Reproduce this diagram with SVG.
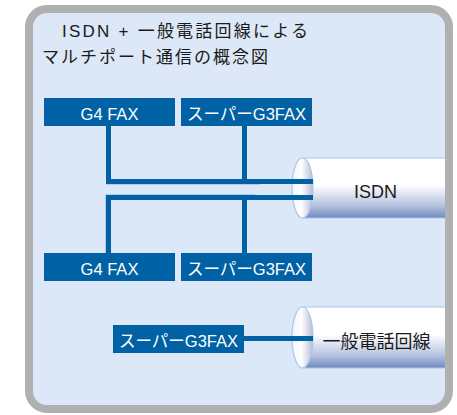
<svg xmlns="http://www.w3.org/2000/svg" width="457" height="415" viewBox="0 0 457 415">
  <defs>
    <linearGradient id="bodyGrad" x1="0" y1="0" x2="0" y2="1">
      <stop offset="0" stop-color="#ffffff"/>
      <stop offset="0.45" stop-color="#ffffff"/>
      <stop offset="0.8" stop-color="#b4c1df"/>
      <stop offset="1" stop-color="#7089c0"/>
    </linearGradient>
    <linearGradient id="capGrad" x1="0" y1="0" x2="1" y2="0">
      <stop offset="0" stop-color="#f4f5fa"/>
      <stop offset="0.45" stop-color="#ffffff"/>
      <stop offset="1" stop-color="#b7bbd4"/>
    </linearGradient>
    <style>
      .jp { font-family: "Liberation Sans", "Noto Sans CJK JP", sans-serif; }
      .title { font-size: 17px; fill: #1a1a1a; }
      .box { fill: #0062a5; }
      .boxtext { font-size: 16.5px; fill: #ffffff; text-anchor: middle; }
      .wire { fill: none; stroke: #0062a5; stroke-width: 5; }
      .hl { fill: none; stroke: #b3cbea; stroke-width: 1; }
      .body { fill: url(#bodyGrad); }
      .edge { fill: none; stroke: #a8c8ee; stroke-width: 1.2; }
      .cap { fill: url(#capGrad); stroke: #a8c8ee; stroke-width: 1.2; }
      .cyltext { font-size: 18px; fill: #1a1a1a; text-anchor: middle; }
    </style>
  </defs>

  <rect width="457" height="415" fill="#ffffff"/>
  <rect id="frame-bg" x="29" y="9" width="420" height="400" rx="18" ry="18" fill="#dce7f7"/>

  <g id="title" class="jp title">
    <text x="62" y="37" textLength="246" lengthAdjust="spacing">ISDN + 一般電話回線による</text>
    <text x="42" y="63" textLength="226" lengthAdjust="spacing">マルチポート通信の概念図</text>
  </g>

  <g id="isdn">
    <rect class="body" x="302.5" y="158" width="146" height="60"/>
    <path class="edge" d="M302.5 158 H448 M302.5 218 H448"/>
    <ellipse class="cap" cx="302.5" cy="188" rx="10.5" ry="30"/>
    <text class="jp cyltext" x="375.5" y="198">ISDN</text>
  </g>

  <g id="phone-line">
    <rect class="body" x="302.5" y="307" width="146" height="61"/>
    <path class="edge" d="M302.5 307 H448 M302.5 368 H448"/>
    <ellipse class="cap" cx="302.5" cy="337.5" rx="10.5" ry="30.5"/>
    <text class="jp cyltext" x="376.5" y="348">一般電話回線</text>
  </g>

  <g id="connectors">
    <path class="hl" d="M106 184.5 H260 M106 194.5 H255 M105.5 194 V253"/>
    <path class="wire" d="M108.5 126 V181.5 H313"/>
    <path class="wire" d="M244.5 126 V181.5"/>
    <path class="wire" d="M108.5 253 V197.5 H313"/>
    <path class="wire" d="M244.5 253 V197.5"/>
    <path class="wire" d="M244 338.5 H313"/>
  </g>

  <g id="g4fax-top">
    <rect class="box" x="44" y="98" width="131" height="28"/>
    <text class="jp boxtext" x="109.5" y="120">G4 FAX</text>
  </g>
  <g id="sg3fax-top">
    <rect class="box" x="181" y="98" width="131" height="28"/>
    <text class="jp boxtext" x="246.5" y="120">スーパーG3FAX</text>
  </g>
  <g id="g4fax-bottom">
    <rect class="box" x="44" y="253" width="131" height="28"/>
    <text class="jp boxtext" x="109.5" y="274.5">G4 FAX</text>
  </g>
  <g id="sg3fax-bottom">
    <rect class="box" x="181" y="253" width="131" height="28"/>
    <text class="jp boxtext" x="246.5" y="274.5">スーパーG3FAX</text>
  </g>
  <g id="sg3fax-phone">
    <rect class="box" x="113" y="325" width="131" height="28"/>
    <text class="jp boxtext" x="178.5" y="346.5">スーパーG3FAX</text>
  </g>

  <rect id="frame" x="29" y="9" width="420" height="400" rx="18" ry="18" fill="none" stroke="#b0b0b0" stroke-width="8"/>
</svg>
